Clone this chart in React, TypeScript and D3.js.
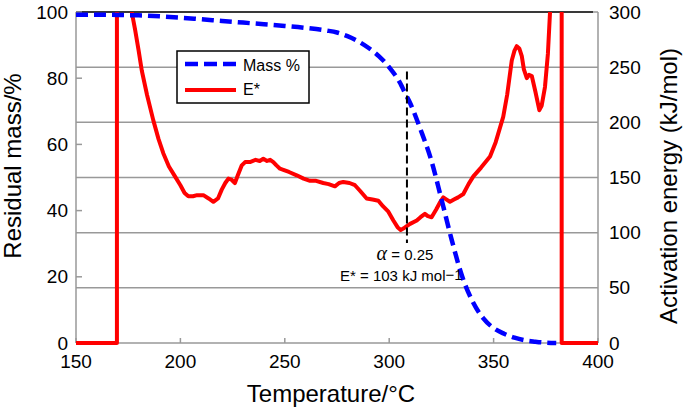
import React from "react";
import * as d3 from "d3";

const xTicks = [150, 200, 250, 300, 350, 400];
const leftTicks = [0, 20, 40, 60, 80, 100];
const rightTicks = [0, 50, 100, 150, 200, 250, 300];

const massT = [150, 160, 170, 180, 190, 200, 210, 220, 230, 240, 250, 260, 270, 275, 280, 285, 290, 295, 300, 305, 308, 310, 315, 320, 325, 330, 335, 340, 345, 350, 355, 360, 365, 370, 375, 380];
const massV = [99.2, 99.2, 99.1, 99, 98.7, 98.3, 97.8, 97.3, 96.8, 96.3, 95.8, 95.2, 94.4, 93.8, 92.7, 91.2, 89.2, 86.7, 83.3, 78.8, 75, 72.5, 64.5, 55.5, 43.5, 31, 20, 12.5, 7.5, 4.5, 2.8, 1.6, 0.8, 0.4, 0.1, 0];

const eT = [150, 169.6, 169.6, 174, 176.7, 178.3, 180, 181.5, 184, 187, 189.5, 191.8, 194.5, 197.4, 200, 202, 203.8, 206, 208, 211, 213.5, 215.8, 218, 219.8, 221.5, 223, 224.5, 226.1, 227.5, 229.4, 231, 233.3, 236, 238, 239.7, 241.5, 243, 244.5, 246, 247.7, 249.3, 252, 255.7, 259, 262.1, 265, 268.4, 271, 274, 276, 278, 281, 283.6, 286, 289.2, 292, 294.8, 297, 299.6, 302, 304, 305.5, 307, 308.4, 310, 313.2, 315, 317.1, 318.5, 320.3, 322.5, 324.5, 325.9, 327.5, 329.1, 331, 333, 335.5, 338, 340.3, 344, 348.3, 351, 354.6, 356.5, 358.7, 360, 361.1, 362.3, 363.5, 364.5, 365.9, 367, 368.3, 370, 371.9, 373, 374.6, 376, 377, 378, 380, 382.6, 382.6, 400];
const eV = [0, 0, 400, 400, 300, 284, 265, 247, 225, 202, 185, 172, 160, 151, 143, 136, 133, 133, 134, 134, 131, 128, 131, 139, 145, 149, 148, 145, 152, 161, 164, 164, 166, 165, 167, 165, 166, 164, 161, 158, 157, 155, 152, 149, 147, 147, 145, 144, 142, 145, 146, 145, 143, 138, 131, 130, 129, 124, 119, 111, 105, 102.5, 104, 106, 108, 111, 114, 117, 115, 114, 121, 128, 132, 130, 128, 130, 132, 135, 144, 151, 159, 169, 182, 205, 225, 256, 265, 269, 267, 260, 248, 240, 243, 242, 228, 211, 215, 232, 262, 299, 330, 400, 400, 0, 0];

const alphaT = 308.5;
const alphaTop = 82;

export default function App() {
  const L = 76, R = 598, T = 12, B = 343;
  const x = d3.scaleLinear().domain([150, 400]).range([L, R]);
  const yl = d3.scaleLinear().domain([0, 100]).range([B, T]);
  const yr = d3.scaleLinear().domain([0, 300]).range([B, T]);

  const massLine = d3.line<number>().x((_, i) => x(massT[i])).y((d) => yl(d)).curve(d3.curveMonotoneX)(massV) || "";
  const eLine = d3.line<number>().x((_, i) => x(eT[i])).y((d) => yr(d))(eV) || "";

  const font = "'Liberation Sans', Arial, Helvetica, sans-serif";
  const grid = "#999";

  return (
    <div style={{ position: "absolute", left: 0, top: 0 }}>
      <svg width={685} height={411} style={{ display: "block", background: "#fff" }} fontFamily={font}>
        <defs>
          <clipPath id="plot">
            <rect x={L} y={T} width={R - L} height={B - T + 4} />
          </clipPath>
        </defs>
        {rightTicks.map((v) => (
          <line key={"g" + v} x1={L} x2={R} y1={yr(v)} y2={yr(v)} stroke={grid} strokeWidth={1.5} />
        ))}
        <line x1={L} x2={L} y1={T} y2={B} stroke={grid} strokeWidth={1.5} />
        <line x1={R} x2={R} y1={T} y2={B} stroke={grid} strokeWidth={1.5} />
        <line x1={L} x2={R - 5} y1={T} y2={T} stroke="#111" strokeWidth={1.5} />
        {leftTicks.map((v) => (
          <line key={"lt" + v} x1={L} x2={L + 6} y1={yl(v)} y2={yl(v)} stroke={grid} strokeWidth={1.5} />
        ))}
        {xTicks.map((v) => (
          <line key={"xt" + v} x1={x(v)} x2={x(v)} y1={B} y2={B - 5} stroke={grid} strokeWidth={1.5} />
        ))}
        <g clipPath="url(#plot)">
          <path d={eLine} fill="none" stroke="#ff0000" strokeWidth={4} strokeLinejoin="round" />
          <path d={massLine} fill="none" stroke="#0000ff" strokeWidth={4.5} strokeDasharray="12,6" />
        </g>
        <line x1={x(alphaT)} x2={x(alphaT)} y1={yl(alphaTop)} y2={B - 100} stroke="#000" strokeWidth={2} strokeDasharray="8,4" />
        <text x={405} y={260} fontSize={15} textAnchor="middle" fill="#000">
          <tspan fontFamily="'Liberation Serif', 'Times New Roman', serif" fontStyle="italic" fontSize={20}>α</tspan>
          <tspan> = 0.25</tspan>
        </text>
        <text x={340} y={281} fontSize={15} fill="#000">
          E* = 103 kJ mol<tspan dy={-1}>−1</tspan>
        </text>
        {/* legend */}
        <rect x={177} y={51} width={132} height={52} fill="#fff" stroke="#000" strokeWidth={1.5} />
        <line x1={185} x2={236} y1={64} y2={64} stroke="#0000ff" strokeWidth={4.5} strokeDasharray="13,6" />
        <line x1={185} x2={236} y1={90} y2={90} stroke="#ff0000" strokeWidth={4} />
        <text x={243} y={71} fontSize={16} fill="#000">Mass %</text>
        <text x={243} y={95} fontSize={16} fill="#000">E*</text>
        {/* axes labels */}
        {leftTicks.map((v) => (
          <text key={"ll" + v} x={68} y={yl(v)} dy="0.35em" fontSize={19} textAnchor="end" fill="#000">{v}</text>
        ))}
        {rightTicks.map((v) => (
          <text key={"rl" + v} x={609} y={yr(v)} dy="0.35em" fontSize={19} textAnchor="start" fill="#000">{v}</text>
        ))}
        {xTicks.map((v) => (
          <text key={"xl" + v} x={x(v)} y={368} fontSize={19} textAnchor="middle" fill="#000">{v}</text>
        ))}
        <text x={331} y={402} fontSize={24} textAnchor="middle" fill="#000">Temperature/°C</text>
        <text transform="translate(21,166) rotate(-90)" fontSize={24} textAnchor="middle" fill="#000">Residual mass/%</text>
        <text transform="translate(677,186) rotate(-90)" fontSize={24} textAnchor="middle" fill="#000">Activation energy (kJ/mol)</text>
      </svg>
    </div>
  );
}
